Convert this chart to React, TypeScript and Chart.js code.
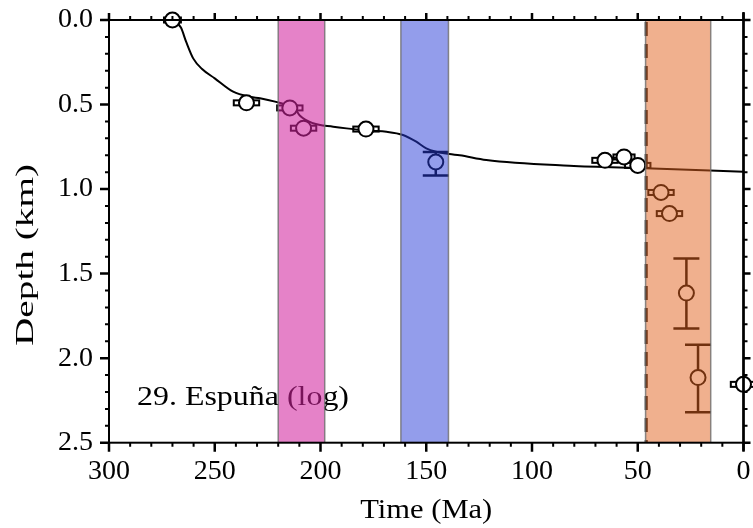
import React, { useEffect, useRef } from 'react';
import { Chart, registerables } from 'chart.js';

Chart.register(...registerables);

// ---- data ----
const sampleAge = [270, 235, 214.5, 208, 178.5, 145.5, 65.5, 56.5, 50, 39, 35, 27, 21.5, 0];
const sampleDepth = [0.0, 0.49, 0.52, 0.64, 0.645, 0.84, 0.83, 0.81, 0.86, 1.02, 1.145, 1.615, 2.115, 2.155];
const sampleAgeError = [4, 6, 6, 6, 6, 0, 6, 5, 6, 6, 6, 0, 0, 6];
const sampleDepthMin: (number | null)[] = [null, null, null, null, null, 0.78, null, null, null, null, null, 1.41, 1.92, null];
const sampleDepthMax: (number | null)[] = [null, null, null, null, null, 0.92, null, null, null, null, null, 1.825, 2.32, null];

const curveAge = [270, 266, 263.5, 260.2, 256, 250, 241.3, 233, 228.6, 216, 212, 209.8, 203.5, 194, 187.7, 176.7, 168.8, 161, 154.7, 150, 145.3, 139, 134.2, 121.6, 82.3, 46.3, 0];
const curveDepth = [0, 0.045, 0.13, 0.227, 0.29, 0.345, 0.424, 0.455, 0.463, 0.503, 0.525, 0.565, 0.611, 0.631, 0.641, 0.655, 0.661, 0.68, 0.72, 0.759, 0.779, 0.793, 0.8, 0.828, 0.862, 0.877, 0.897];

const bandStart = [220, 162, 46.3];
const bandEnd = [198, 139.5, 15.5];
const markerAge = [46];

const xTickLabels = ['300', '250', '200', '150', '100', '50', '0'];
const yTickLabels = ['0.0', '0.5', '1.0', '1.5', '2.0', '2.5'];

const xTitle = 'Time (Ma)';
const yTitle = 'Depth (km)';
const siteLabel = '29. Espuña (log)';

// ---- styles ----
const bandColors = ['rgba(210,35,158,0.57)', 'rgba(40,60,215,0.5)', 'rgba(225,98,30,0.5)'];
const SERIF = '"Liberation Serif", "Times New Roman", Times, serif';

function stretchedText(ctx: CanvasRenderingContext2D, text: string, x: number, y: number, width: number, size: number, align: 'left' | 'center', rot = 0) {
  ctx.save();
  ctx.font = `${size}px ${SERIF}`;
  ctx.fillStyle = '#000';
  ctx.textBaseline = 'alphabetic';
  ctx.textAlign = align;
  const w = ctx.measureText(text).width;
  ctx.translate(x, y);
  if (rot) ctx.rotate(rot);
  ctx.scale(width / w, 1);
  ctx.fillText(text, 0, 0);
  ctx.restore();
}

const decorPlugin = {
  id: 'decor',
  beforeDatasetsDraw(chart: any) {
    const { ctx, scales } = chart;
    const xs = scales.x, ys = scales.y;
    ctx.save();
    ctx.strokeStyle = '#000';
    for (let i = 0; i < sampleAge.length; i++) {
      const px = xs.getPixelForValue(sampleAge[i]);
      const py = ys.getPixelForValue(sampleDepth[i]);
      if (sampleAgeError[i] > 0) {
        const x1 = xs.getPixelForValue(sampleAge[i] + sampleAgeError[i]);
        const x2 = xs.getPixelForValue(sampleAge[i] - sampleAgeError[i]);
        ctx.lineWidth = 2;
        ctx.strokeRect(x1, py - 2.5, x2 - x1, 5);
      }
      const lo = sampleDepthMin[i], hi = sampleDepthMax[i];
      if (lo != null && hi != null) {
        const y1 = ys.getPixelForValue(lo), y2 = ys.getPixelForValue(hi);
        ctx.lineWidth = 2.5;
        ctx.beginPath();
        ctx.moveTo(px, y1); ctx.lineTo(px, y2);
        ctx.moveTo(px - 13, y1); ctx.lineTo(px + 13, y1);
        ctx.moveTo(px - 13, y2); ctx.lineTo(px + 13, y2);
        ctx.stroke();
      }
    }
    ctx.restore();
  },
  afterDatasetsDraw(chart: any) {
    const { ctx, scales, chartArea: ca } = chart;
    const xs = scales.x, ys = scales.y;
    stretchedText(ctx, siteLabel, 137, 405, 212, 27, 'left');
    ctx.save();
    ctx.strokeStyle = '#000';
    ctx.lineWidth = 3;
    ctx.setLineDash([14, 8]);
    for (const a of markerAge) {
      const px = xs.getPixelForValue(a);
      ctx.beginPath();
      ctx.moveTo(px, ca.top + 2);
      ctx.lineTo(px, ca.bottom);
      ctx.stroke();
    }
    ctx.restore();
    ctx.save();
    for (let i = 0; i < bandStart.length; i++) {
      const x1 = xs.getPixelForValue(bandStart[i]);
      const x2 = xs.getPixelForValue(bandEnd[i]);
      ctx.fillStyle = bandColors[i];
      ctx.fillRect(x1, ca.top, x2 - x1, ca.bottom - ca.top);
      ctx.strokeStyle = 'rgba(110,110,110,0.8)';
      ctx.lineWidth = 1.5;
      ctx.beginPath();
      ctx.moveTo(x1, ca.top); ctx.lineTo(x1, ca.bottom);
      ctx.moveTo(x2, ca.top); ctx.lineTo(x2, ca.bottom);
      ctx.stroke();
    }
    ctx.restore();
    ctx.save();
    ctx.strokeStyle = '#000';
    ctx.lineWidth = 2;
    ctx.strokeRect(ca.left, ca.top, ca.right - ca.left, ca.bottom - ca.top);
    ctx.lineWidth = 2.5;
    ctx.beginPath();
    ctx.moveTo(ca.right, ca.top - 8); ctx.lineTo(ca.right, ca.bottom + 8);
    ctx.stroke();
    for (let v = 0; v <= 300; v += 10) {
      const px = xs.getPixelForValue(v);
      const major = v % 50 === 0;
      ctx.lineWidth = major ? 2.5 : 2;
      const lb = major ? 9 : 4;
      const lt = major ? 7 : 4;
      ctx.beginPath();
      ctx.moveTo(px, ca.bottom); ctx.lineTo(px, ca.bottom + lb);
      ctx.moveTo(px, ca.top); ctx.lineTo(px, ca.top - lt);
      ctx.stroke();
    }
    for (let k = 0; k <= 25; k++) {
      const py = ys.getPixelForValue(k / 10);
      const major = k % 5 === 0;
      ctx.lineWidth = major ? 2.5 : 2;
      const l = major ? 9 : 4;
      const r = major ? 7 : 4;
      ctx.beginPath();
      ctx.moveTo(ca.left, py); ctx.lineTo(ca.left - l, py);
      ctx.moveTo(ca.right, py); ctx.lineTo(ca.right + r, py);
      ctx.stroke();
    }
    ctx.restore();
    stretchedText(ctx, xTitle, (ca.left + ca.right) / 2, 518, 132, 27, 'center');
    stretchedText(ctx, yTitle, 32.5, 255, 182, 26, 'center', -Math.PI / 2);
  },
};

export default function App() {
  const ref = useRef<HTMLCanvasElement | null>(null);
  useEffect(() => {
    let chart: Chart | null = null;
    let cancelled = false;
    const build = () => {
      if (cancelled || !ref.current) return;
      chart = new Chart(ref.current, {
        type: 'scatter',
        data: {
          datasets: [
            {
              type: 'scatter',
              data: sampleAge.map((a, i) => ({ x: a, y: sampleDepth[i] })),
              pointRadius: 7.5,
              pointBackgroundColor: '#fff',
              pointBorderColor: '#000',
              pointBorderWidth: 2,
              order: 1,
              clip: false as any,
            },
            {
              type: 'line',
              data: curveAge.map((a, i) => ({ x: a, y: curveDepth[i] })),
              borderColor: '#000',
              borderWidth: 2,
              pointRadius: 0,
              fill: false,
              cubicInterpolationMode: 'monotone',
              order: 2,
            } as any,
          ],
        },
        options: {
          animation: false,
          responsive: false,
          devicePixelRatio: 1,
          layout: { padding: { top: 20, right: 9, left: 0, bottom: 0 } },
          plugins: { legend: { display: false }, tooltip: { enabled: false } },
          events: [],
          scales: {
            x: {
              type: 'linear',
              position: 'bottom',
              min: 0,
              max: 300,
              reverse: true,
              grid: { display: false, drawTicks: false },
              border: { display: false },
              afterBuildTicks: (s: any) => { s.ticks = xTickLabels.map((l) => ({ value: Number(l) })); },
              afterFit: (s: any) => { s.height = 85.3; s.paddingLeft = 0; s.paddingRight = 0; },
              ticks: {
                color: '#000',
                font: { family: SERIF, size: 28 },
                padding: 12,
                maxRotation: 0,
                autoSkip: false,
                callback: (v: any) => xTickLabels.find((l) => Number(l) === v) ?? '',
              },
            },
            y: {
              type: 'linear',
              position: 'left',
              min: 0,
              max: 2.5,
              reverse: true,
              grid: { display: false, drawTicks: false },
              border: { display: false },
              afterBuildTicks: (s: any) => { s.ticks = yTickLabels.map((l) => ({ value: Number(l) })); },
              afterFit: (s: any) => { s.width = 109; s.paddingTop = 0; s.paddingBottom = 0; },
              ticks: {
                color: '#000',
                font: { family: SERIF, size: 28 },
                padding: 16,
                autoSkip: false,
                callback: (v: any) => yTickLabels.find((l) => Number(l) === v) ?? '',
              },
            },
          },
        } as any,
        plugins: [decorPlugin],
      });
    };
    const fonts: any = (document as any).fonts;
    if (fonts && fonts.load) {
      Promise.all([
        fonts.load('28px "Liberation Serif"', '0123456789.'),
        fonts.load('28px "Liberation Serif"', 'Time (Ma) Depth (km) Espuña'),
      ]).then(build, build);
    } else {
      build();
    }
    return () => {
      cancelled = true;
      if (chart) chart.destroy();
    };
  }, []);
  return (
    <div style={{ position: 'absolute', left: 0, top: 0, width: 753, height: 528, background: '#fff' }}>
      <canvas ref={ref} width={753} height={528} style={{ display: 'block', width: 753, height: 528 }} />
    </div>
  );
}
